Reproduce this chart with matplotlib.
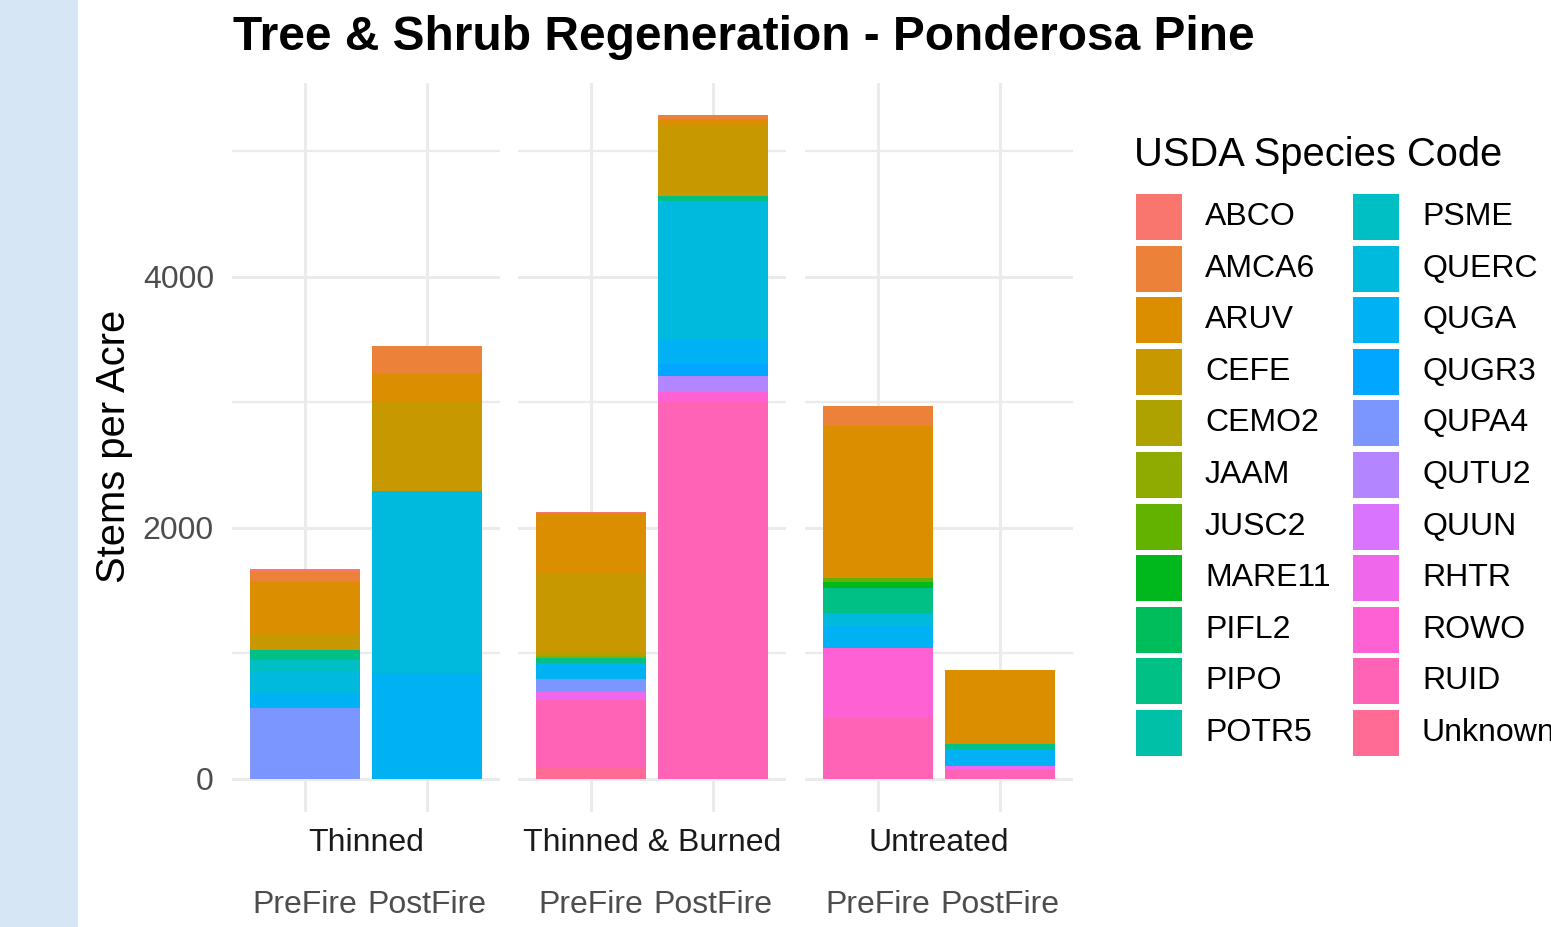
import numpy as np
import matplotlib
matplotlib.use('Agg')
import matplotlib.pyplot as plt
from matplotlib.patches import Rectangle

# data (stems per acre), species order as in the legend
species = ['ABCO', 'AMCA6', 'ARUV', 'CEFE', 'CEMO2', 'JAAM', 'JUSC2', 'MARE11',
           'PIFL2', 'PIPO', 'POTR5', 'PSME', 'QUERC', 'QUGA', 'QUGR3', 'QUPA4',
           'QUTU2', 'QUUN', 'RHTR', 'ROWO', 'RUID', 'Unknown']
treatments = ['Thinned', 'Thinned & Burned', 'Untreated']
periods = ['PreFire', 'PostFire']

#                 ABCO AMCA6 ARUV CEFE CEMO2 JAAM JUSC2 MARE11 PIFL2 PIPO POTR5 PSME QUERC QUGA QUGR3 QUPA4 QUTU2 QUUN RHTR ROWO RUID Unk
thinned_pre =    [30,  66,  420, 132,  0,   0,   0,    0,     0,   80,   0,   99,  167,  112,  0,   568,   0,   0,   0,   0,   0,    0]
thinned_post =   [0,   212, 226, 712,  0,   0,   0,    0,     0,   0,    0,   0,   1456, 839,  0,   0,     0,   0,   0,   0,   0,    0]
tb_pre =         [8,   0,   473, 637,  25,  20,  0,    0,     0,   37,   0,   0,   0,    127,  0,   107,   0,   0,   66,  0,   526,  98]
tb_post =        [0,   34,  53,  558,  0,   0,   0,    0,     0,   40,   0,   0,   1094, 199,  96,  0,     133, 0,   0,   80,  2998, 0]
untreated_pre =  [0,   154, 1209, 0,   0,   0,   32,   48,    0,   199,  0,   0,   106,  178,  0,   0,     0,   0,   0,   552, 488,  0]
untreated_post = [0,   0,   592, 0,    0,   0,   0,    0,     0,   40,   0,   0,   0,    133,  0,   0,     0,   0,   27,  0,   77,   0]

bars = {
    'Thinned': [thinned_pre, thinned_post],
    'Thinned & Burned': [tb_pre, tb_post],
    'Untreated': [untreated_pre, untreated_post],
}


def hue_pal(n, l=65, c=100):
    # ggplot2 default discrete palette (hcl hues from 15 to 375)
    hues = np.linspace(15, 375, n + 1)[:n]
    xn, yn, zn = 95.047, 100.0, 108.883
    un = 4 * xn / (xn + 15 * yn + 3 * zn)
    vn = 9 * yn / (xn + 15 * yn + 3 * zn)
    m = np.array([[3.2404542, -1.5371385, -0.4985314],
                  [-0.9692660, 1.8760108, 0.0415560],
                  [0.0556434, -0.2040259, 1.0572252]])
    out = []
    for h in hues:
        u = c * np.cos(np.radians(h))
        v = c * np.sin(np.radians(h))
        Y = yn * ((l + 16) / 116) ** 3
        up = u / (13 * l) + un
        vp = v / (13 * l) + vn
        X = 9 * Y * up / (4 * vp)
        Z = Y * (12 - 3 * up - 20 * vp) / (4 * vp)
        rgb = m @ (np.array([X, Y, Z]) / 100)
        rgb = np.where(rgb <= 0.0031308, 12.92 * rgb, 1.055 * np.clip(rgb, 0, None) ** (1 / 2.4) - 0.055)
        out.append(tuple(np.clip(rgb, 0, 1)))
    return out


colors = hue_pal(len(species))

W, H = 1551, 927
fig = plt.figure(figsize=(W / 100, H / 100), dpi=100)
fig.patch.set_facecolor('white')
FONT = 'Liberation Sans'
FS = 23


def fx(px):
    return px / W


def fy(py):
    return 1 - py / H


# light blue strip on the left edge
fig.patches.append(Rectangle((0, 0), fx(78), 1, transform=fig.transFigure,
                             facecolor='#D6E6F4', edgecolor='none', zorder=0))

panel_left = [232, 518, 805]
panel_w = 268
top_px, bot_px = 83, 812

for i, t in enumerate(treatments):
    ax = fig.add_axes([fx(panel_left[i]), fy(bot_px), fx(panel_w), fy(top_px) - fy(bot_px)])
    ax.set_facecolor('white')
    for s in ax.spines.values():
        s.set_visible(False)
    ax.set_axisbelow(True)
    x = np.arange(len(periods))
    bottom = np.zeros(len(periods))
    vals = np.array(bars[t], dtype=float)  # shape (2, n_species)
    # ggplot stacks with the first level on top, so draw from the last level up
    for k in range(len(species) - 1, -1, -1):
        ax.bar(x, vals[:, k], 0.9, bottom=bottom, color=colors[k], linewidth=0)
        bottom += vals[:, k]
    ax.set_xlim(-0.6, 1.6)
    ax.set_ylim(-264, 5541)
    ax.set_xticks(x)
    ax.set_xticklabels(periods, fontsize=FS, color='#4D4D4D', family=FONT)
    ax.set_yticks([0, 2000, 4000])
    ax.set_yticks([1000, 3000, 5000], minor=True)
    ax.tick_params(axis='x', length=0, pad=56)
    ax.tick_params(axis='y', which='both', length=0, pad=13, labelsize=FS, labelcolor='#4D4D4D')
    for lab in ax.get_yticklabels():
        lab.set_family(FONT)
    if i > 0:
        ax.set_yticklabels([])
    ax.grid(True, which='major', color='#EBEBEB', linewidth=2.2)
    ax.grid(True, which='minor', axis='y', color='#EBEBEB', linewidth=1.6)
    ax.text(0.5, -31 / (bot_px - top_px), t, transform=ax.transAxes, ha='center', va='center',
            fontsize=FS, color='#1A1A1A', family=FONT)

fig.text(fx(114), fy(446), 'Stems per Acre', rotation=90, ha='center', va='center',
         fontsize=28.7, color='black', family=FONT)
fig.text(fx(233), fy(38), 'Tree & Shrub Regeneration - Ponderosa Pine', ha='left', va='center',
         fontsize=34.5, fontweight='bold', color='black', family=FONT)

# legend
fig.text(fx(1134), fy(155), 'USDA Species Code', ha='left', va='center',
         fontsize=28.7, color='black', family=FONT)
nrow = 11
for k, sp in enumerate(species):
    col, row = divmod(k, nrow)
    kx = 1136 + col * 217
    cy = 217 + row * 51.6
    fig.patches.append(Rectangle((fx(kx), fy(cy + 23)), fx(46), fy(cy - 23) - fy(cy + 23),
                                 transform=fig.transFigure, facecolor=colors[k], edgecolor='none'))
    fig.text(fx(kx + 69), fy(cy), sp, ha='left', va='center', fontsize=FS,
             color='black', family=FONT)

fig.savefig('out.png', dpi=100)
